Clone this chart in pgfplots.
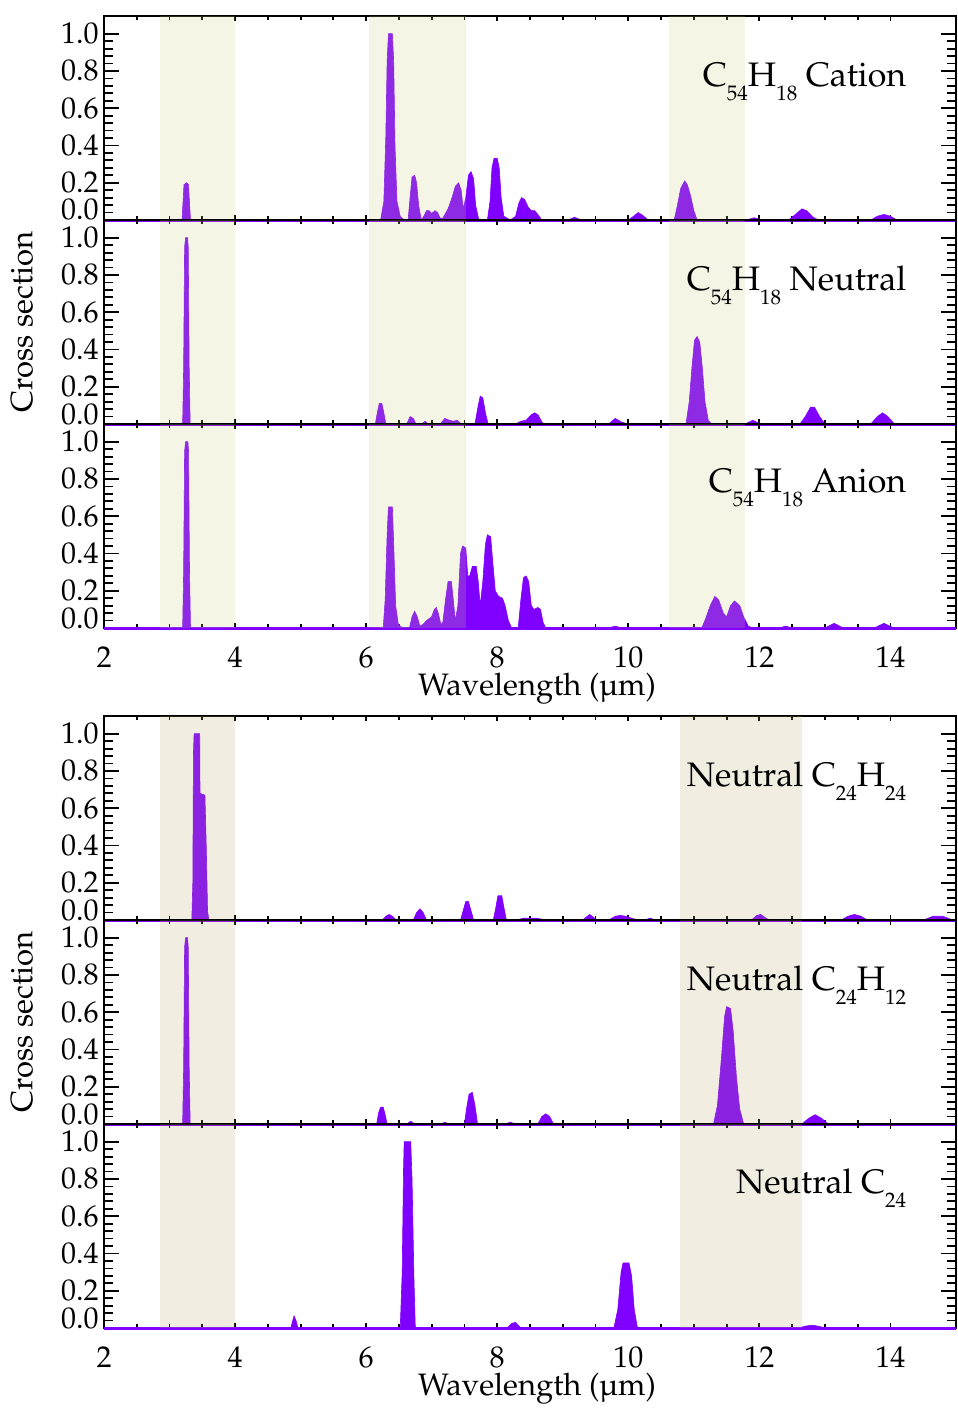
\documentclass[border=0pt]{standalone}
\usepackage[T1]{fontenc}
\usepackage{mathpazo}
\usepackage{pgfplots}
\pgfplotsset{compat=1.18}

\definecolor{spec}{RGB}{128,0,255}
\definecolor{bandA}{RGB}{200,205,120}
\definecolor{bandB}{RGB}{185,165,105}
\newcommand{\sub}[1]{\raisebox{-7pt}{\fontsize{10.5}{12}\selectfont #1}}

\tikzset{
  spfill/.style={draw=spec, fill=spec, line width=0.3pt},
  base/.style={spec, line width=1.5pt},
  lab/.style={anchor=base east, inner sep=0pt, font=\fontsize{17}{20}\selectfont},
}
\pgfplotsset{
  panel/.style={
    scale only axis, width=426pt, height=102pt,
    xmin=2, xmax=15, ymin=0, ymax=1.095,
    clip=false,
    xtick={2,4,6,8,10,12,14}, minor x tick num=3,
    ytick={0,0.2,0.4,0.6,0.8,1},
    yticklabels={\raisebox{5pt}{0.0},0.2,0.4,0.6,0.8,1.0},
    minor y tick num=4,
    tick align=inside,
    major tick length=7.5pt, minor tick length=4.5pt,
    xtick style={/pgfplots/major tick length=2.5pt,/pgfplots/minor tick length=2pt},
    axis line style={line width=0.9pt},
    tick style={line width=0.9pt, black},
    tick label style={font=\fontsize{15}{17}\selectfont},
    yticklabel style={text height=10pt, text depth=0pt, inner ysep=0pt, inner xsep=2.5pt},
    xticklabels={},
  },
  bottompanel/.style={
    xticklabels={2,4,6,8,10,12,14},
    xticklabel style={yshift=-6pt, font=\fontsize{15}{17}\selectfont},
    xlabel={Wavelength (\textmu m)},
    xlabel style={font=\fontsize{15.5}{17}\selectfont, yshift=4.5pt, xshift=3.5pt},
  },
}

\begin{document}
\begin{tikzpicture}
\useasboundingbox (0,0) rectangle (479pt,-704pt);

% ---------------- Top group ----------------
\begin{axis}[panel, at={(52pt,-8pt)}, anchor=north west]
\addplot[spfill] coordinates {(2,0)(3.19,0)(3.21,0.12)(3.22,0.19)(3.26,0.2)(3.29,0.19)(3.30,0.12)(3.32,0)
(6.22,0)(6.27,0.1)(6.30,0.45)(6.32,0.85)(6.34,1.0)(6.40,1.0)(6.42,0.85)(6.44,0.4)(6.47,0.1)(6.52,0.02)(6.58,0)
(6.64,0)(6.67,0.12)(6.70,0.23)(6.74,0.24)(6.77,0.2)(6.80,0.08)(6.84,0)
(6.88,0.02)(6.92,0.05)(6.96,0.05)(7.00,0.035)(7.05,0.05)(7.09,0.04)(7.13,0.01)
(7.17,0.01)(7.25,0.06)(7.31,0.12)(7.36,0.18)(7.41,0.2)(7.45,0.16)(7.48,0.06)(7.52,0.12)(7.56,0.24)(7.60,0.26)(7.64,0.22)(7.67,0.08)(7.72,0)
(7.85,0)(7.89,0.1)(7.92,0.28)(7.95,0.33)(8.00,0.33)(8.03,0.28)(8.06,0.12)(8.10,0.02)(8.20,0)(8.28,0.02)(8.33,0.09)(8.37,0.12)(8.42,0.11)(8.47,0.07)(8.52,0.05)(8.57,0.05)(8.62,0.03)(8.68,0)
(9.08,0)(9.18,0.015)(9.28,0)
(10.0,0)(10.08,0.02)(10.15,0.04)(10.22,0.025)(10.3,0)
(10.70,0)(10.75,0.08)(10.80,0.17)(10.86,0.21)(10.90,0.19)(10.95,0.13)(11.00,0.05)(11.05,0)
(11.8,0)(11.92,0.012)(12.05,0)
(12.45,0)(12.55,0.03)(12.65,0.06)(12.72,0.05)(12.82,0.015)(12.9,0)
(13.7,0)(13.8,0.02)(13.9,0.03)(14.0,0.02)(14.1,0)(15,0)} \closedcycle;
\addplot[base] coordinates {(2,0)(15,0)};
\fill[bandA, fill opacity=0.2] (axis cs:2.85,0) rectangle (axis cs:4.0,1.095);
\fill[bandA, fill opacity=0.2] (axis cs:6.05,0) rectangle (axis cs:7.52,1.095);
\fill[bandA, fill opacity=0.2] (axis cs:10.62,0) rectangle (axis cs:11.78,1.095);
\node[lab] at (rel axis cs:0.942,0.655) {C\sub{54}H\sub{18} Cation};
\end{axis}

\begin{axis}[panel, at={(52pt,-110pt)}, anchor=north west]
\addplot[spfill] coordinates {(2,0)(3.20,0)(3.215,0.3)(3.23,0.95)(3.245,1.0)(3.275,1.0)(3.285,0.95)(3.30,0.3)(3.315,0)
(6.14,0)(6.17,0.06)(6.20,0.11)(6.24,0.11)(6.27,0.06)(6.30,0)
(6.62,0)(6.67,0.04)(6.72,0.03)(6.76,0)
(6.85,0)(6.90,0.015)(6.95,0)
(7.13,0)(7.20,0.03)(7.27,0.02)(7.33,0.015)(7.39,0.02)(7.45,0)
(7.66,0)(7.70,0.08)(7.74,0.15)(7.78,0.14)(7.82,0.06)(7.86,0)
(8.28,0)(8.36,0.015)(8.44,0.02)(8.52,0.05)(8.57,0.06)(8.62,0.05)(8.70,0)
(9.7,0)(9.8,0.03)(9.9,0.01)(10.0,0)
(10.88,0)(10.93,0.12)(10.97,0.3)(11.01,0.45)(11.05,0.47)(11.09,0.44)(11.13,0.3)(11.17,0.12)(11.22,0.02)(11.27,0)
(11.78,0)(11.9,0.02)(12.02,0)
(12.62,0)(12.7,0.04)(12.78,0.09)(12.84,0.09)(12.92,0.04)(13.0,0)
(13.7,0)(13.8,0.04)(13.88,0.06)(13.96,0.04)(14.06,0)(15,0)} \closedcycle;
\addplot[base] coordinates {(2,0)(15,0)};
\fill[bandA, fill opacity=0.2] (axis cs:2.85,0) rectangle (axis cs:4.0,1.095);
\fill[bandA, fill opacity=0.2] (axis cs:6.05,0) rectangle (axis cs:7.52,1.095);
\fill[bandA, fill opacity=0.2] (axis cs:10.62,0) rectangle (axis cs:11.78,1.095);
\node[lab] at (rel axis cs:0.942,0.655) {C\sub{54}H\sub{18} Neutral};
\end{axis}

\begin{axis}[panel, bottompanel, at={(52pt,-212pt)}, anchor=north west]
\addplot[spfill] coordinates {(2,0)(3.20,0)(3.215,0.3)(3.23,0.95)(3.245,1.0)(3.28,1.0)(3.29,0.95)(3.305,0.3)(3.32,0)
(6.26,0)(6.29,0.15)(6.32,0.5)(6.34,0.65)(6.40,0.65)(6.42,0.45)(6.45,0.12)(6.49,0.02)(6.55,0)
(6.66,0)(6.70,0.06)(6.74,0.09)(6.78,0.06)(6.82,0.01)
(6.87,0.02)(6.92,0.04)(6.96,0.05)(7.00,0.06)(7.04,0.10)(7.07,0.11)(7.10,0.08)(7.14,0.02)(7.17,0.03)(7.21,0.15)(7.25,0.25)(7.30,0.25)(7.33,0.15)(7.36,0.04)(7.40,0.12)(7.44,0.40)(7.47,0.44)(7.52,0.43)(7.55,0.28)(7.58,0.28)(7.62,0.33)(7.68,0.33)(7.71,0.25)(7.74,0.12)(7.78,0.25)(7.82,0.45)(7.85,0.50)(7.90,0.49)(7.93,0.36)(7.97,0.20)(8.02,0.17)(8.08,0.16)(8.12,0.12)(8.17,0.04)(8.22,0)
(8.32,0)(8.36,0.15)(8.40,0.27)(8.44,0.28)(8.48,0.25)(8.52,0.12)(8.56,0.10)(8.62,0.11)(8.66,0.10)(8.70,0.03)(8.74,0)
(9.7,0)(9.8,0.01)(9.9,0)
(11.12,0)(11.18,0.05)(11.25,0.12)(11.32,0.17)(11.38,0.15)(11.45,0.08)(11.50,0.06)(11.56,0.12)(11.62,0.145)(11.70,0.12)(11.76,0.06)(11.83,0.01)(11.9,0)
(12.3,0)(12.4,0.01)(12.5,0)
(13.0,0)(13.14,0.025)(13.28,0)
(13.75,0)(13.9,0.025)(14.05,0)(15,0)} \closedcycle;
\addplot[base] coordinates {(2,0)(15,0)};
\fill[bandA, fill opacity=0.2] (axis cs:2.85,0) rectangle (axis cs:4.0,1.095);
\fill[bandA, fill opacity=0.2] (axis cs:6.05,0) rectangle (axis cs:7.52,1.095);
\fill[bandA, fill opacity=0.2] (axis cs:10.62,0) rectangle (axis cs:11.78,1.095);
\node[lab] at (rel axis cs:0.942,0.665) {C\sub{54}H\sub{18} Anion};
\end{axis}

% ---------------- Bottom group ----------------
\begin{axis}[panel, at={(52pt,-358pt)}, anchor=north west]
\addplot[spfill] coordinates {(2,0)(3.34,0)(3.355,0.2)(3.365,0.9)(3.375,1.0)(3.46,1.0)(3.465,0.68)(3.54,0.67)(3.56,0.4)(3.58,0.05)(3.60,0)
(6.25,0)(6.30,0.02)(6.35,0.03)(6.40,0.02)(6.46,0)
(6.72,0)(6.77,0.04)(6.82,0.06)(6.87,0.04)(6.92,0)
(7.44,0)(7.48,0.05)(7.52,0.10)(7.56,0.10)(7.60,0.05)(7.64,0)
(7.94,0)(7.98,0.07)(8.01,0.13)(8.07,0.13)(8.10,0.07)(8.14,0)
(8.3,0)(8.4,0.01)(8.6,0.01)(8.75,0)
(9.3,0)(9.41,0.03)(9.52,0)
(9.7,0)(9.8,0.02)(9.88,0.025)(9.96,0.02)(10.05,0.01)(10.15,0)
(10.25,0)(10.33,0.01)(10.42,0)
(11.88,0)(11.96,0.025)(12.02,0.03)(12.1,0.01)(12.16,0)
(13.25,0)(13.35,0.02)(13.45,0.03)(13.55,0.02)(13.65,0)
(14.5,0)(14.65,0.02)(14.8,0.02)(14.95,0)(15,0)} \closedcycle;
\addplot[base] coordinates {(2,0)(15,0)};
\fill[bandB, fill opacity=0.2] (axis cs:2.85,0) rectangle (axis cs:4.0,1.095);
\fill[bandB, fill opacity=0.2] (axis cs:10.79,0) rectangle (axis cs:12.65,1.095);
\node[lab] at (rel axis cs:0.942,0.655) {Neutral C\sub{24}H\sub{24}};
\end{axis}

\begin{axis}[panel, at={(52pt,-460pt)}, anchor=north west]
\addplot[spfill] coordinates {(2,0)(3.20,0)(3.215,0.3)(3.23,0.95)(3.245,1.0)(3.275,1.0)(3.285,0.95)(3.30,0.3)(3.315,0)
(6.16,0)(6.19,0.06)(6.22,0.09)(6.26,0.09)(6.29,0.05)(6.32,0)
(6.62,0)(6.68,0.015)(6.74,0)
(7.14,0)(7.2,0.01)(7.26,0)
(7.50,0)(7.53,0.08)(7.57,0.16)(7.62,0.17)(7.66,0.10)(7.70,0)
(8.12,0)(8.2,0.01)(8.28,0)
(8.62,0)(8.68,0.04)(8.74,0.055)(8.80,0.04)(8.86,0)
(11.3,0)(11.36,0.1)(11.42,0.35)(11.47,0.58)(11.50,0.63)(11.56,0.62)(11.60,0.5)(11.65,0.25)(11.70,0.08)(11.76,0)
(12.65,0)(12.75,0.03)(12.85,0.05)(12.95,0.03)(13.05,0)(15,0)} \closedcycle;
\addplot[base] coordinates {(2,0)(15,0)};
\fill[bandB, fill opacity=0.2] (axis cs:2.85,0) rectangle (axis cs:4.0,1.095);
\fill[bandB, fill opacity=0.2] (axis cs:10.79,0) rectangle (axis cs:12.65,1.095);
\node[lab] at (rel axis cs:0.942,0.655) {Neutral C\sub{24}H\sub{12}};
\end{axis}

\begin{axis}[panel, bottompanel, at={(52pt,-562pt)}, anchor=north west]
\addplot[spfill] coordinates {(2,0)(4.85,0)(4.88,0.04)(4.90,0.065)(4.93,0.04)(4.96,0)
(6.52,0)(6.55,0.3)(6.57,0.85)(6.58,1.0)(6.68,1.0)(6.70,0.8)(6.73,0.25)(6.75,0)
(8.15,0)(8.22,0.025)(8.28,0.03)(8.36,0)
(9.78,0)(9.84,0.1)(9.89,0.3)(9.92,0.35)(10.01,0.35)(10.05,0.28)(10.09,0.1)(10.14,0)
(12.6,0)(12.7,0.01)(12.8,0.015)(12.9,0.01)(13.0,0)(15,0)} \closedcycle;
\addplot[base] coordinates {(2,0)(15,0)};
\fill[bandB, fill opacity=0.2] (axis cs:2.85,0) rectangle (axis cs:4.0,1.095);
\fill[bandB, fill opacity=0.2] (axis cs:10.79,0) rectangle (axis cs:12.65,1.095);
\node[lab] at (rel axis cs:0.942,0.66) {Neutral C\sub{24}};
\end{axis}

\node[rotate=90, font=\fontsize{15.5}{17}\selectfont] at (11pt,-161pt) {Cross section};
\node[rotate=90, font=\fontsize{15.5}{17}\selectfont] at (11pt,-511pt) {Cross section};
\end{tikzpicture}
\end{document}
